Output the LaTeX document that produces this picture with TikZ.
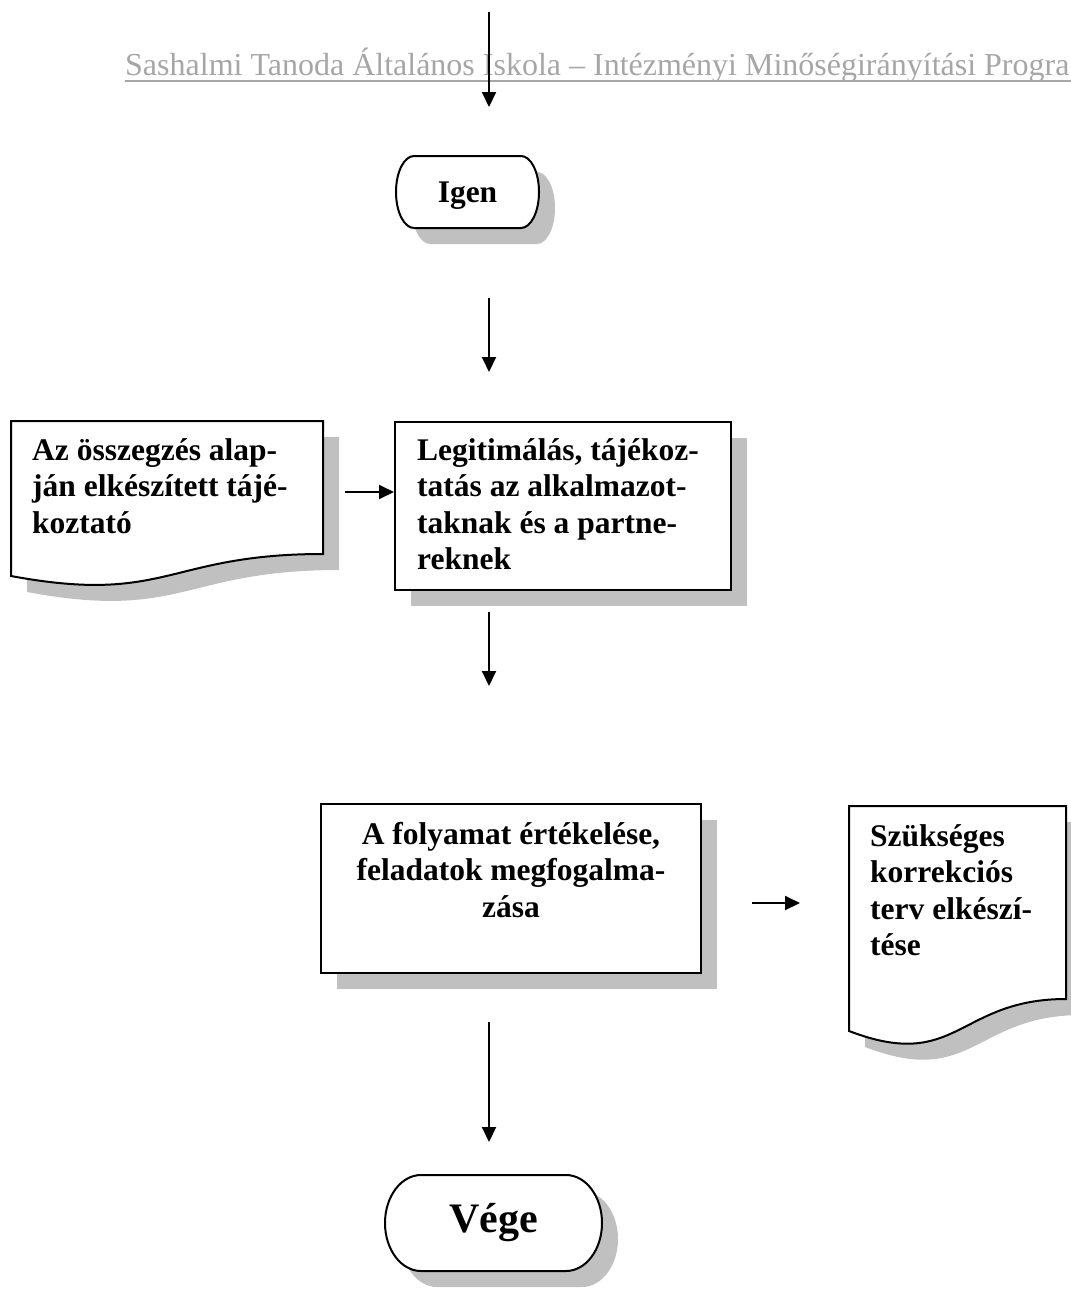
\documentclass[tikz,border=0pt]{standalone}
\usepackage{fontspec}
\setmainfont{Liberation Serif}
\usetikzlibrary{arrows.meta,shadows}

\definecolor{shade}{RGB}{192,192,192}
\definecolor{headgray}{RGB}{166,166,166}
\newcommand\flowtextfont{\fontsize{31.5}{36.5}\selectfont\bfseries}

\begin{document}
\begin{tikzpicture}[x=1pt,y=-1pt,
  outline/.style={draw=black, line width=2pt, fill=white,
    drop shadow={shadow xshift=16pt, shadow yshift=-16pt, fill=shade, opacity=1}},
  flow/.style={line width=2pt, -{Triangle[length=15pt,width=14pt]}},
  label/.style={font=\flowtextfont, inner sep=0pt},
  procbox/.style={outline, rectangle, inner sep=0pt},
]
\useasboundingbox (0,0) rectangle (1071,1296);

% running header
\node[anchor=base west, inner sep=0pt, text=headgray,
      font=\fontsize{32}{38}\selectfont] (header) at (125,75)
  {Sashalmi Tanoda Általános Iskola – Intézményi Minőségirányítási Progra};
\coordinate (ulL) at (125,81);
\coordinate (ulR) at (1071,81);
\draw[headgray, line width=2pt] (ulL) -- (ulR);

% terminal: Igen
\path[outline] (414,156) -- (521,156)
  arc[start angle=-90, end angle=90, x radius=18, y radius=36]
  -- (414,228)
  arc[start angle=90, end angle=270, x radius=18, y radius=36] -- cycle;
\node[label, anchor=base] (igen) at (467.5,202) {Igen};

% document: summary (multi-line nodes are placed by the last baseline)
\path[outline] (11,421) -- (323,421) -- (323,554)
  .. controls (167,554) and (167,605) .. (11,576) -- cycle;
\node[label, align=left, anchor=base west] (summary) at (32,533)
  {Az összegzés alap-\\ján elkészített tájé-\\koztató};

% process: legitimation
\node[procbox, minimum width=336pt, minimum height=168pt] (legitbox) at (563,506) {};
\node[label, align=left, anchor=base west] (legit) at (417,569.5)
  {Legitimálás, tájékoz-\\tatás az alkalmazot-\\taknak és a partne-\\reknek};

% process: evaluation
\node[procbox, minimum width=380pt, minimum height=169pt] (evalbox) at (511,888.5) {};
\node[label, align=center, anchor=base] (eval) at (511,917)
  {A folyamat értékelése,\\feladatok megfogalma-\\zása};

% document: correction plan
\path[outline] (849,806) -- (1066,806) -- (1066,999)
  .. controls (957.5,999) and (957.5,1072.5) .. (849,1031) -- cycle;
\node[label, align=left, anchor=base west] (plan) at (870,955.5)
  {Szükséges\\korrekciós\\terv elkészí-\\tése};

% terminal: Vége
\path[outline] (421,1175) -- (566,1175)
  arc[start angle=-90, end angle=90, x radius=36, y radius=48]
  -- (421,1271)
  arc[start angle=90, end angle=270, x radius=36, y radius=48] -- cycle;
\node[inner sep=0pt, font=\fontsize{42}{48}\selectfont\bfseries] (vege) at (493.5,1223) {Vége};

% connectors
\coordinate (a1s) at (489,12);   \coordinate (a1e) at (489,107);
\coordinate (a2s) at (489,298);  \coordinate (a2e) at (489,372);
\coordinate (a3s) at (345,492);  \coordinate (a3e) at (394,492);
\coordinate (a4s) at (489,612);  \coordinate (a4e) at (489,686);
\coordinate (a5s) at (752,903);  \coordinate (a5e) at (800,903);
\coordinate (a6s) at (489,1022); \coordinate (a6e) at (489,1142);
\draw[flow] (a1s) -- (a1e);
\draw[flow] (a2s) -- (a2e);
\draw[flow] (a3s) -- (a3e);
\draw[flow] (a4s) -- (a4e);
\draw[flow] (a5s) -- (a5e);
\draw[flow] (a6s) -- (a6e);
\end{tikzpicture}
\end{document}
